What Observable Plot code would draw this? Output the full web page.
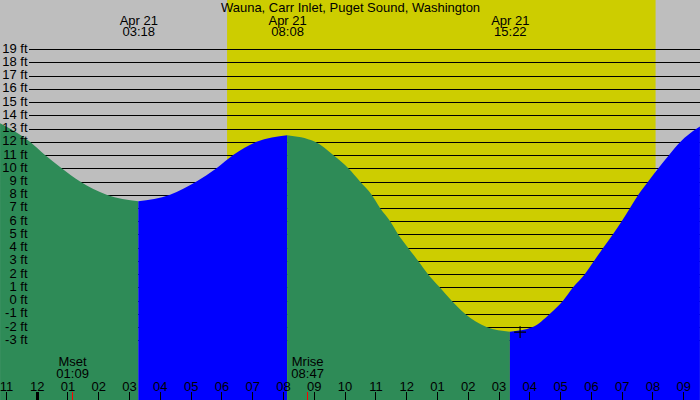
<!DOCTYPE html>
<html><head><meta charset="utf-8">
<script src="https://cdn.jsdelivr.net/npm/d3@7"></script>
<script src="https://cdn.jsdelivr.net/npm/@observablehq/plot@0.6"></script>
<style>html,body{margin:0;padding:0;background:#fff} svg{display:block}</style>
</head><body><div id="chart"></div>
<script>
// ---- data (hours are decimal hours since midnight Apr 21; negative = Apr 20) ----
const title = "Wauna, Carr Inlet, Puget Sound, Washington";
const dateLabel = "Apr 21";
const tideHours = [-1.19, -0.22, 0.27, 0.81, 1.41, 2.27, 3.30, 4.33, 5.19, 5.84, 6.38, 7.14, 8.133,
  9.04, 9.63, 10.12, 10.50, 10.88, 11.15, 11.48, 11.74, 12.06, 12.39, 12.71, 13.09, 13.47, 13.91, 14.61, 15.367,
  16.11, 16.67, 17.10, 17.42, 17.80, 18.10, 18.40, 18.71, 19.00, 19.27, 19.54, 19.86, 20.19, 20.54, 20.91, 21.44, 21.54];
const tideFeet = [13.4, 12.0, 11.0, 10.0, 9.0, 8.0, 7.5, 8.0, 9.0, 10.0, 11.0, 12.0, 12.5,
  12.0, 11.0, 10.0, 9.0, 8.0, 7.0, 6.0, 5.0, 4.0, 3.0, 2.0, 1.0, 0.0, -1.0, -2.0, -2.35,
  -2.0, -1.0, 0.0, 1.0, 2.0, 3.0, 4.0, 5.0, 6.0, 7.0, 8.0, 9.0, 10.0, 11.0, 12.0, 13.0, 13.15];
const extremeTimes = ["03:18", "08:08", "15:22"];
const extremeKinds = ["low", "high", "low"];
const sunTimes = ["06:11", "20:06"];
const moonNames = ["Mset", "Mrise"];
const moonTimes = ["01:09", "08:47"];
const hourTicks = [-1, 0, 1, 2, 3, 4, 5, 6, 7, 8, 9, 10, 11, 12, 13, 14, 15, 16, 17, 18, 19, 20, 21];
const feetTicks = [-3, -2, -1, 0, 1, 2, 3, 4, 5, 6, 7, 8, 9, 10, 11, 12, 13, 14, 15, 16, 17, 18, 19];
const markerTime = "15:41";
const markerFeet = -2.35;
const xDomain = [-1.192, 21.543];
const yDomain = [-7.513, 22.72];

// ---- build ----
const toHours = s => +s.slice(0, 2) + +s.slice(3) / 60;
const tide = tideHours.map((h, i) => ({h, ft: tideFeet[i]}));
const ext = extremeTimes.map((t, i) => ({t, h: toHours(t), kind: extremeKinds[i]}));
const segments = [];
for (let i = 0; i <= ext.length; i++) {
  const from = i === 0 ? -Infinity : ext[i - 1].h;
  const to = i === ext.length ? Infinity : ext[i].h;
  const rising = i < ext.length ? ext[i].kind === "high" : ext[i - 1].kind === "low";
  segments.push({data: tide.filter(d => d.h >= from - 0.01 && d.h <= to + 0.01), fill: rising ? "#0000ff" : "#2e8b57"});
}
const hourLabel = h => { const m = ((h % 12) + 12) % 12; return String(m === 0 ? 12 : m).padStart(2, "0"); };
const moon = moonNames.map((n, i) => ({name: n, t: moonTimes[i], h: toHours(moonTimes[i])}));
const font = {fontFamily: "Liberation Sans, Arial, sans-serif", fontSize: 13, fill: "black"};

const plot = Plot.plot({
  width: 700, height: 400,
  margin: 0,
  style: {background: "#bebebe", fontFamily: "Liberation Sans, Arial, sans-serif"},
  x: {domain: xDomain, axis: null},
  y: {domain: yDomain, axis: null},
  marks: [
    Plot.rect([sunTimes], {x1: d => toHours(d[0]), x2: d => toHours(d[1]), y1: yDomain[0], y2: yDomain[1], fill: "#cdcd00"}),
    Plot.ruleY(feetTicks, {y: d => d, insetLeft: 29, stroke: "black", strokeWidth: 1, shapeRendering: "crispEdges"}),
    ...segments.map(s => Plot.areaY(s.data, {x: "h", y1: yDomain[0], y2: "ft", fill: s.fill, curve: "monotone-x"})),
    Plot.text(feetTicks, {y: d => d, text: d => `${d} ft`, frameAnchor: "left", textAnchor: "end", dx: 27, dy: -1.2, ...font}),
    Plot.ruleX(hourTicks.filter(h => h !== 0), {x: d => d, insetTop: 392, stroke: "black", strokeWidth: 1, shapeRendering: "crispEdges"}),
    Plot.ruleX(hourTicks.filter(h => h === 0), {x: d => d, insetTop: 392, stroke: "black", strokeWidth: 3, shapeRendering: "crispEdges"}),
    Plot.ruleX(moon, {x: "h", insetTop: 392, stroke: "red", strokeWidth: 1, shapeRendering: "crispEdges"}),
    Plot.text(hourTicks, {x: d => d, text: hourLabel, frameAnchor: "bottom", lineAnchor: "bottom", dy: -10, ...font}),
    Plot.text(moon, {x: "h", text: d => `${d.name}\n${d.t}`, frameAnchor: "bottom", lineAnchor: "bottom", lineHeight: 0.89, dy: -22.7, ...font}),
    Plot.text(ext, {x: "h", text: d => `${dateLabel}\n${d.t}`, frameAnchor: "top", lineAnchor: "bottom", lineHeight: 0.877, dy: 35.7, ...font}),
    Plot.text([title], {text: d => d, frameAnchor: "top", lineAnchor: "bottom", dy: 11.7, ...font}),
    Plot.dot([{h: toHours(markerTime), ft: markerFeet}], {x: "h", y: "ft", symbol: "plus", r: 3.9, stroke: "black", strokeWidth: 1.2})
  ]
});
document.getElementById("chart").appendChild(plot);
</script>
</body></html>
